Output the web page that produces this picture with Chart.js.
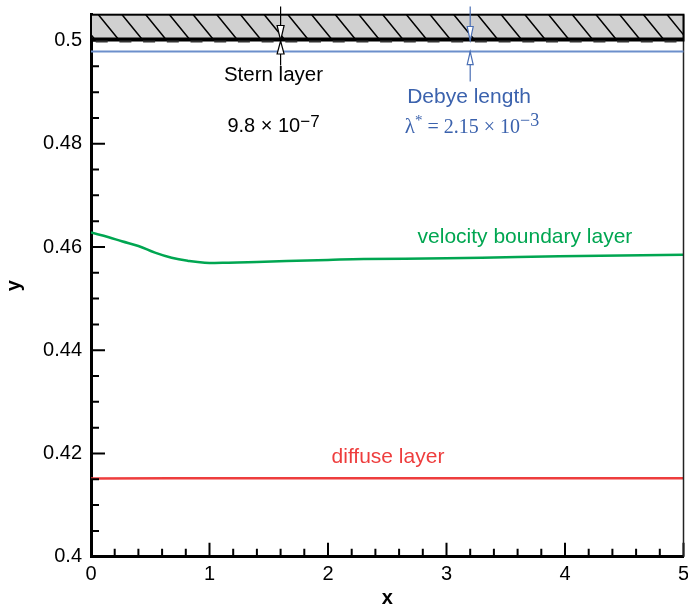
<!DOCTYPE html>
<html>
<head>
<meta charset="utf-8">
<title>Boundary layers</title>
<script src="https://cdn.jsdelivr.net/npm/chart.js@4.4.1/dist/chart.umd.min.js"></script>
<style>
  body { margin: 0; background: #fff; }
  canvas { display: block; }
</style>
</head>
<body>
<canvas id="chart" width="688" height="610"></canvas>
<script>
// axis ticks
const xTicks = [0, 1, 2, 3, 4, 5];
const yTicks = [0.4, 0.42, 0.44, 0.46, 0.48, 0.5];

// velocity boundary layer edge
const velX = [0, 0.15, 0.26, 0.4, 0.54, 0.68, 0.82, 0.96, 1.16, 1.4, 1.65, 2.0, 2.3, 3.0, 3.6, 4.3, 5.0];
const velY = [0.4628, 0.4619, 0.4611, 0.4602, 0.4589, 0.4579, 0.4573, 0.45695, 0.45695, 0.4571, 0.45728, 0.4575, 0.45767, 0.4578, 0.45805, 0.4583, 0.4585];

// diffuse layer edge
const diffX = [0, 0.7, 5];
const diffY = [0.41515, 0.4152, 0.4152];

// wall and layer thicknesses
const wallY = 0.5;
const wallTop = 0.505;
const debyeLength = 2.15e-3;
const sternX = 1.6;
const debyeX = 3.2;

const SANS = '"Liberation Sans", Arial, sans-serif';
const SERIF = '"Liberation Serif", "Times New Roman", serif';
const BLUE = '#3b62ad';

function toPoints(xs, ys) {
    return xs.map((x, i) => ({ x: x, y: ys[i] }));
}

function drawRich(ctx, parts, cx, baseY, color) {
    let total = 0;
    parts.forEach(p => {
        ctx.font = p.font;
        p.w = ctx.measureText(p.t).width;
        total += p.w;
    });
    let x = cx - total / 2;
    ctx.fillStyle = color;
    ctx.textAlign = 'left';
    ctx.textBaseline = 'alphabetic';
    parts.forEach(p => {
        ctx.font = p.font;
        ctx.fillText(p.t, x, baseY + (p.dy || 0));
        x += p.w;
    });
}

function arrowHead(ctx, x, tipY, dir, len, half) {
    // dir = 1 points down, -1 points up
    ctx.beginPath();
    ctx.moveTo(x, tipY);
    ctx.lineTo(x - half, tipY - dir * len);
    ctx.lineTo(x + half, tipY - dir * len);
    ctx.closePath();
    ctx.fillStyle = '#fff';
    ctx.fill();
    ctx.stroke();
}

const decorations = {
    id: 'decorations',
    afterDraw(chart) {
        const ctx = chart.ctx;
        const xs = chart.scales.x;
        const ys = chart.scales.y;
        const area = chart.chartArea;
        const px = v => xs.getPixelForValue(v);
        const py = v => ys.getPixelForValue(v);

        ctx.save();

        // inward tick marks
        ctx.strokeStyle = '#000';
        ctx.lineWidth = 2;
        ctx.beginPath();
        for (let i = 0; i <= 25; i++) {
            const x = px(i * 0.2);
            const len = i % 5 === 0 ? 14 : 8;
            ctx.moveTo(x, area.bottom);
            ctx.lineTo(x, area.bottom - len);
        }
        for (let i = 0; i <= 20; i++) {
            const y = py(0.4 + i * 0.005);
            const len = i % 4 === 0 ? 14 : 8;
            ctx.moveTo(area.left, y);
            ctx.lineTo(area.left + len, y);
        }
        ctx.stroke();

        // right frame
        ctx.strokeStyle = '#222';
        ctx.lineWidth = 1.5;
        ctx.beginPath();
        ctx.moveTo(area.right, area.top);
        ctx.lineTo(area.right, area.bottom);
        ctx.stroke();

        // solid wall
        const yw = py(wallY);
        const yt = py(wallTop);
        ctx.fillStyle = '#d0d0d0';
        ctx.fillRect(area.left, yt, area.right - area.left, yw - yt);
        ctx.save();
        ctx.beginPath();
        ctx.rect(area.left, yt, area.right - area.left, yw - yt);
        ctx.clip();
        ctx.strokeStyle = '#000';
        ctx.lineWidth = 1.5;
        ctx.beginPath();
        for (let x = area.left - 40; x < area.right + 40; x += 23.7) {
            ctx.moveTo(x, yt);
            ctx.lineTo(x + 21, yw);
        }
        ctx.stroke();
        ctx.restore();

        ctx.strokeStyle = '#000';
        ctx.lineWidth = 2;
        ctx.strokeRect(area.left, yt, area.right - area.left, yw - yt);
        ctx.lineWidth = 3;
        ctx.beginPath();
        ctx.moveTo(area.left, yw - 1.5);
        ctx.lineTo(area.right, yw - 1.5);
        ctx.stroke();
        ctx.strokeStyle = '#333';
        ctx.lineWidth = 2;
        ctx.setLineDash([12, 11.7]);
        ctx.lineDashOffset = -(21 - 40 % 23.7);
        ctx.beginPath();
        ctx.moveTo(area.left, yw + 1);
        ctx.lineTo(area.right, yw + 1);
        ctx.stroke();
        ctx.setLineDash([]);

        // Debye length line
        const yd = py(wallY - debyeLength);
        ctx.strokeStyle = '#6c8fcb';
        ctx.lineWidth = 2;
        ctx.beginPath();
        ctx.moveTo(area.left, yd);
        ctx.lineTo(area.right, yd);
        ctx.stroke();

        // Stern layer arrows
        const sx = px(sternX);
        ctx.strokeStyle = '#000';
        ctx.lineWidth = 1.2;
        ctx.beginPath();
        ctx.moveTo(sx, yw - 34);
        ctx.lineTo(sx, yw + 25);
        ctx.stroke();
        arrowHead(ctx, sx, yw, 1, 15, 3.5);
        arrowHead(ctx, sx, yw + 0.5, -1, 13, 3.5);

        // Debye length arrows
        const dx = px(debyeX);
        ctx.strokeStyle = '#4a6fb5';
        ctx.beginPath();
        ctx.moveTo(dx, yw - 34);
        ctx.lineTo(dx, yw);
        ctx.moveTo(dx, yd);
        ctx.lineTo(dx, yd + 30);
        ctx.stroke();
        arrowHead(ctx, dx, yw, 1, 14, 3);
        arrowHead(ctx, dx, yd, -1, 13, 3);

        // labels
        drawRich(ctx, [{ t: 'Stern layer', font: '20.5px ' + SANS }], px(1.54), py(0.49225), '#000');
        drawRich(ctx, [
            { t: '9.8 \u00d7 10', font: '20px ' + SANS },
            { t: '\u22127', font: '17px ' + SANS, dy: -5 }
        ], px(1.54), py(0.48237), '#000');
        drawRich(ctx, [{ t: 'Debye length', font: '21px ' + SANS }], px(3.19), py(0.48784), BLUE);
        drawRich(ctx, [
            { t: '\u03bb', font: '21px ' + SERIF },
            { t: '*', font: '15px ' + SERIF, dy: -8 },
            { t: ' = 2.15 \u00d7 10', font: '20px ' + SERIF },
            { t: '\u22123', font: '18px ' + SERIF, dy: -7 }
        ], px(3.215), py(0.48202), BLUE);
        drawRich(ctx, [{ t: 'velocity boundary layer', font: '21px ' + SANS }], px(3.662), py(0.46071), '#00a651');
        drawRich(ctx, [{ t: 'diffuse layer', font: '21px ' + SANS }], px(2.506), py(0.41809), '#ee3d3d');

        ctx.restore();
    }
};

new Chart(document.getElementById('chart'), {
    type: 'line',
    data: {
        datasets: [
            {
                label: 'velocity boundary layer',
                data: toPoints(velX, velY),
                borderColor: '#00a651',
                borderWidth: 2.5,
                pointRadius: 0,
                tension: 0.4
            },
            {
                label: 'diffuse layer',
                data: toPoints(diffX, diffY),
                borderColor: '#ee3d3d',
                borderWidth: 2.5,
                pointRadius: 0
            }
        ]
    },
    options: {
        responsive: false,
        animation: false,
        devicePixelRatio: 1,
        layout: { padding: { top: 14.7, right: 4.5, left: 0, bottom: 0 } },
        plugins: {
            legend: { display: false },
            tooltip: { enabled: false }
        },
        scales: {
            x: {
                type: 'linear',
                min: 0,
                max: 5,
                afterBuildTicks: s => { s.ticks = xTicks.map(v => ({ value: v })); },
                afterFit: s => { s.height = 53.3; s.paddingLeft = 0; s.paddingRight = 0; },
                grid: { display: false, drawTicks: false },
                border: { display: true, width: 3, color: '#000' },
                ticks: {
                    color: '#000',
                    font: { family: SANS, size: 20 },
                    padding: 6,
                    maxRotation: 0,
                    autoSkip: false,
                    callback: v => String(v)
                },
                title: {
                    display: true,
                    text: 'x',
                    color: '#000',
                    font: { family: SANS, size: 20, weight: 'bold' },
                    padding: { top: 0, bottom: 0 }
                }
            },
            y: {
                type: 'linear',
                min: 0.4,
                max: wallTop,
                afterBuildTicks: s => { s.ticks = yTicks.map(v => ({ value: v })); },
                afterFit: s => { s.width = 91; s.paddingTop = 0; s.paddingBottom = 0; },
                grid: { display: false, drawTicks: false },
                border: { display: true, width: 3, color: '#000' },
                ticks: {
                    color: '#000',
                    font: { family: SANS, size: 20 },
                    padding: 9,
                    autoSkip: false,
                    callback: v => String(v)
                },
                title: {
                    display: true,
                    text: 'y',
                    color: '#000',
                    font: { family: SANS, size: 20, weight: 'bold' },
                    padding: { top: 2.3, bottom: 0 }
                }
            }
        }
    },
    plugins: [decorations]
});
</script>
</body>
</html>
